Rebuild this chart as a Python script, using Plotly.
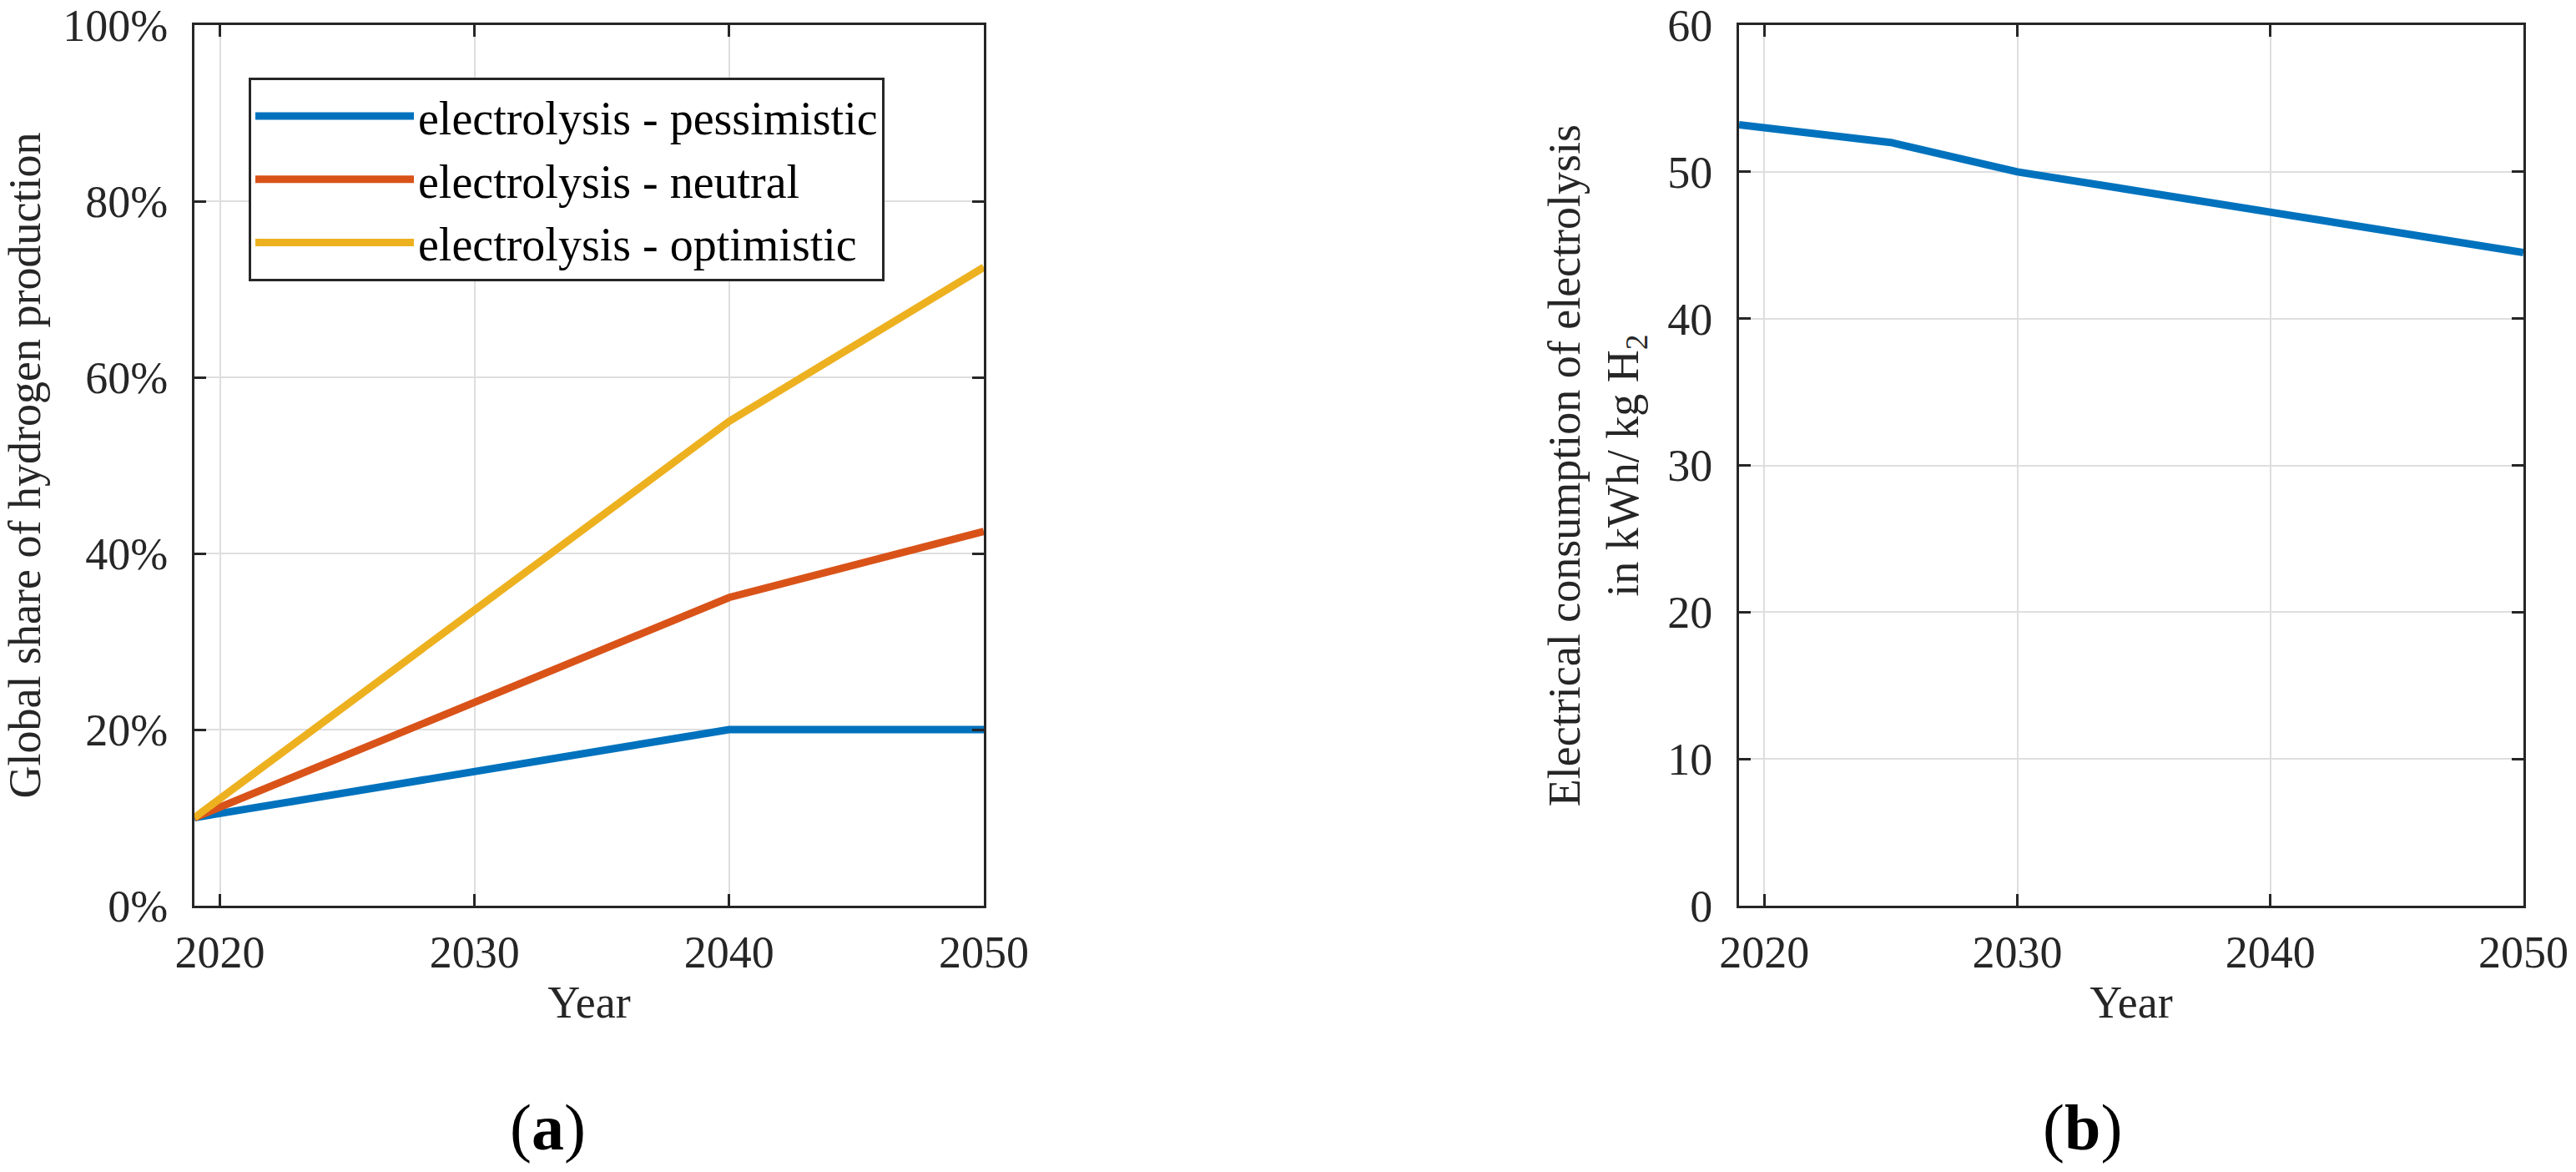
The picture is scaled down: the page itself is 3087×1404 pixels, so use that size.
import plotly.graph_objects as go

# ---- data ----
years_a = [2019, 2040, 2050]
pessimistic = [10, 20, 20]
neutral = [10, 35, 42.5]
optimistic = [10, 55, 72.5]

years_b = [2019, 2025, 2030, 2040, 2050]
consumption = [53.2, 52.0, 50.0, 47.3, 44.5]

x_ticks = [2020, 2030, 2040, 2050]
y_ticks_a = [0, 20, 40, 60, 80, 100]
y_ticktext_a = ["0%", "20%", "40%", "60%", "80%", "100%"]
y_ticks_b = [0, 10, 20, 30, 40, 50, 60]

series_names = ["electrolysis - pessimistic", "electrolysis - neutral", "electrolysis - optimistic"]
colors = ["#0072BD", "#D95319", "#EDB120"]

FONT = "Palatino Linotype, Palatino, Book Antiqua, Liberation Serif, serif"
FS = 54
AX = "#262626"

fig = go.Figure()
for name, vals, c in zip(series_names, [pessimistic, neutral, optimistic], colors):
    fig.add_trace(go.Scatter(x=years_a, y=vals, mode="lines", name=name,
                             line=dict(color=c, width=9), xaxis="x", yaxis="y"))
fig.add_trace(go.Scatter(x=years_b, y=consumption, mode="lines", name="consumption",
                         line=dict(color=colors[0], width=9), xaxis="x2", yaxis="y2",
                         showlegend=False))

W, H = 3087, 1404
dom_y = [1 - 1085 / H, 1 - 30 / H]

common_x = dict(range=[2019, 2050], tickvals=x_ticks, ticks="inside", ticklen=14, tickwidth=3,
                tickcolor=AX, showline=True, linecolor=AX, linewidth=3, mirror="ticks",
                showgrid=True, gridcolor="#dedede", gridwidth=2, zeroline=False,
                automargin=False,
                tickfont=dict(family=FONT, size=FS, color=AX), ticklabelstandoff=6,
                title=dict(text="Year", font=dict(family=FONT, size=FS, color=AX), standoff=12))
common_y = dict(ticks="inside", ticklen=14, tickwidth=3, tickcolor=AX, showline=True,
                linecolor=AX, linewidth=3, mirror="ticks", showgrid=True, gridcolor="#dedede",
                gridwidth=2, zeroline=False, automargin=False,
                tickfont=dict(family=FONT, size=FS, color=AX), ticklabelstandoff=18)

fig.update_layout(
    width=W, height=H, margin=dict(l=0, r=0, t=0, b=0, autoexpand=False),
    paper_bgcolor="white", plot_bgcolor="white",
    font=dict(family=FONT, size=FS, color=AX),
    xaxis=dict(domain=[233 / W, 1179 / W], anchor="y", **common_x),
    yaxis=dict(domain=dom_y, anchor="x", range=[0, 100], tickvals=y_ticks_a,
               ticktext=y_ticktext_a,
               title=dict(text="Global share of hydrogen production",
                          font=dict(family=FONT, size=FS, color=AX), standoff=10),
               **common_y),
    xaxis2=dict(domain=[2084 / W, 3024 / W], anchor="y2", **common_x),
    yaxis2=dict(domain=dom_y, anchor="x2", range=[0, 60], tickvals=y_ticks_b,
                title=dict(text="Electrical consumption of electrolysis<br>in kWh/ kg H<sub>2</sub>",
                           font=dict(family=FONT, size=FS, color=AX), standoff=18),
                **common_y),
    legend=dict(x=298 / W, y=1 - 93 / H, xanchor="left", yanchor="top",
                bgcolor="white", bordercolor=AX, borderwidth=3,
                font=dict(family=FONT, size=56, color="black"), itemwidth=190,
                tracegroupgap=0),
    annotations=[
        dict(text="(<b>a</b>)", x=656 / W, y=1 - 1350 / H, xref="paper", yref="paper",
             xanchor="center", yanchor="middle",
             showarrow=False, font=dict(family=FONT, size=78, color="black")),
        dict(text="(<b>b</b>)", x=2495 / W, y=1 - 1350 / H, xref="paper", yref="paper",
             xanchor="center", yanchor="middle",
             showarrow=False, font=dict(family=FONT, size=78, color="black")),
    ],
)

fig.write_html("out.html", config={"displayModeBar": False},
               post_script="document.body.style.margin='0';document.body.style.overflow='hidden';")
